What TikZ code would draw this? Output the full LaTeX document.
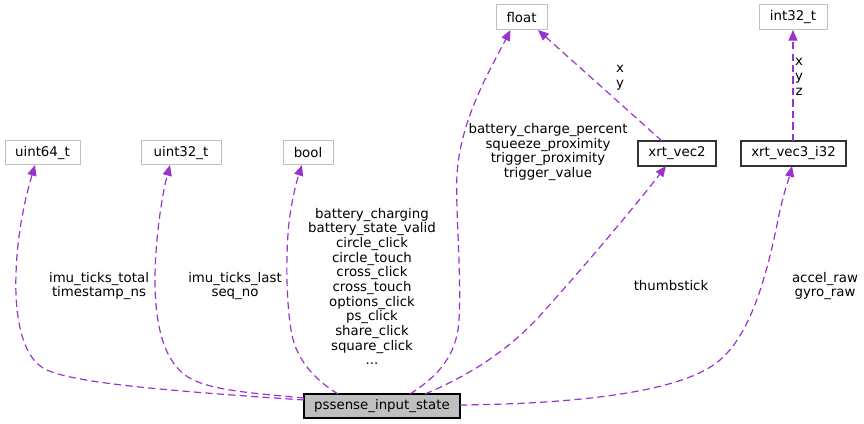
\documentclass[tikz,border=0pt]{standalone}
\usepackage{fontspec}
\setmainfont{DejaVu Sans}
\usetikzlibrary{arrows.meta,calc}
\definecolor{edgec}{HTML}{9A32CD}
\definecolor{boxgray}{HTML}{BFBFBF}
\begin{document}
\begin{tikzpicture}[x=0.75pt,y=-0.75pt,
  every node/.style={font=\fontsize{10pt}{11pt}\selectfont, inner sep=0pt, outer sep=0pt},
  extbox/.style={draw=boxgray, fill=white, line width=0.75pt, minimum height=24*0.75pt},
  clsbox/.style={draw=black!80, fill=white, line width=0.8pt, minimum height=24*0.75pt},
  mainbox/.style={draw=black, fill=boxgray, line width=0.8pt, minimum height=24*0.75pt},
  uses/.style={draw=edgec, line width=0.9pt, dash pattern=on 5.4pt off 3.2pt,
    -{Triangle[length=8pt,width=6.8pt,fill=edgec]}},
  lbl/.style={align=center}]
\useasboundingbox (0,0) rectangle (864,424);

% nodes
\node[mainbox, minimum width=156*0.75pt] (main) at (382,406) {pssense\_input\_state};
\node[extbox, minimum width=75*0.75pt] (u64) at (42.5,153) {uint64\_t};
\node[extbox, minimum width=80*0.75pt] (u32) at (181,153) {uint32\_t};
\node[extbox, minimum width=50*0.75pt] (bool) at (308,153) {bool};
\node[extbox, minimum width=51*0.75pt, minimum height=25*0.75pt] (float) at (521.5,17.5) {float};
\node[extbox, minimum width=68*0.75pt, minimum height=25*0.75pt] (i32) at (793,17.5) {int32\_t};
\node[clsbox, minimum width=78*0.75pt, minimum height=25*0.75pt] (vec2) at (677,153.5) {xrt\_vec2};
\node[clsbox, minimum width=105*0.75pt, minimum height=25*0.75pt] (vec3) at (793.5,153.5) {xrt\_vec3\_i32};

% edges
\draw[uses] ($(main.west)+(0,-6)$) .. controls (170,391) and (68,383) .. (43,368)
  .. controls (17,352) and (15,300) .. (16,275)
  .. controls (17,230) and (27,192) .. ($(u64.south)+(-7.5,0)$);
\draw[uses] ($(main.west)+(0,-8)$) .. controls (250,393) and (205,390) .. (185,375)
  .. controls (162,358) and (155,320) .. (155,280)
  .. controls (155,240) and (162,195) .. ($(u32.south)+(-11,0)$);
\draw[uses] ($(main.north)+(-44,0)$) .. controls (315,380) and (297,360) .. (292,335)
  .. controls (285,300) and (286,240) .. (290,215)
  .. controls (293,195) and (297,180) .. ($(bool.south)+(-6,0)$);
\draw[uses] ($(main.north)+(28,0)$) .. controls (435,378) and (453,360) .. (458,330)
  .. controls (463,290) and (455,210) .. (457,175)
  .. controls (460,120) and (490,70) .. ($(float.south)+(-11,0)$);
\draw[uses] ($(main.north)+(43,0)$) .. controls (470,375) and (510,350) .. (545,310)
  .. controls (590,260) and (640,200) .. ($(vec2.south)+(-11,0)$);
\draw[uses] ($(main.east)+(0,-1)$) .. controls (560,404) and (680,395) .. (720,360)
  .. controls (755,330) and (770,260) .. (780,210)
  .. controls (786,185) and (790,175) .. ($(vec3.south)+(-1.5,0)$);
\draw[uses] ($(vec2.north)+(-15,0)$) -- ($(float.south)+(16.5,0)$);
\draw[uses] ($(vec3.north)+(-0.5,0)$) -- ($(i32.south)$);

% labels
\node[lbl] (l1) at (99,286) {imu\_ticks\_total\\timestamp\_ns};
\node[lbl] (l2) at (235,286) {imu\_ticks\_last\\seq\_no};
\node[lbl] (l3) at (372,286.5) {battery\_charging\\battery\_state\_valid\\circle\_click\\circle\_touch\\cross\_click\\cross\_touch\\options\_click\\ps\_click\\share\_click\\square\_click\\...};
\node[lbl] (l4) at (548,152) {battery\_charge\_percent\\squeeze\_proximity\\trigger\_proximity\\trigger\_value};
\node[lbl] (l5) at (671,286) {thumbstick};
\node[lbl] (l6) at (825,286) {accel\_raw\\gyro\_raw};
\node[lbl] (l7) at (620,78) {x\\y};
\node[lbl] (l8) at (799,77) {x\\y\\z};
\end{tikzpicture}
\end{document}
